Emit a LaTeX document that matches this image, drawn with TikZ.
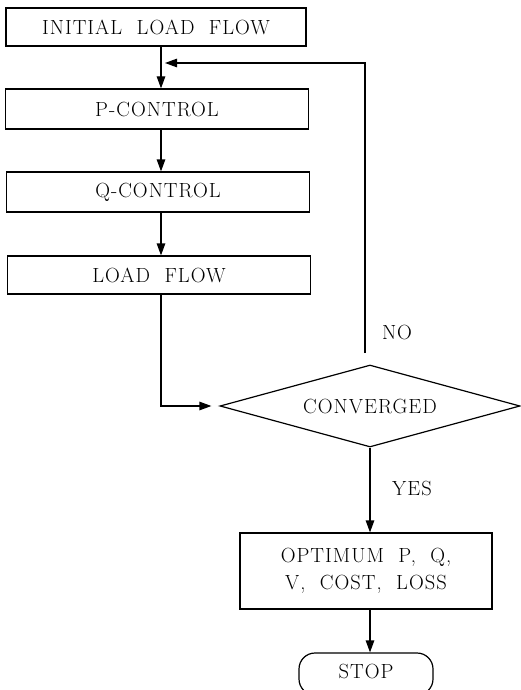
\documentclass[tikz,border=0pt]{standalone}
\usepackage{fontspec}
\setmainfont{Latin Modern Roman}[LetterSpace=5]
\usetikzlibrary{shapes.geometric,arrows.meta}
\begin{document}
\begin{tikzpicture}[x=1pt,y=-1pt,
  line width=1.2pt,
  txt/.style={font=\fontsize{20.5}{27}\selectfont},
  box/.style={draw,rectangle,inner sep=0pt,txt,align=center},
  dia/.style={draw,diamond,aspect=3.6,inner sep=0pt,minimum width=300pt,minimum height=82pt,txt},
  lbl/.style={txt,inner sep=0pt},
  arr/.style={-{Triangle[length=12pt,width=8.5pt]}}]
\useasboundingbox (0,0) rectangle (520,690);
\node[box,minimum width=300pt,minimum height=38pt] (init) at (156,27) {INITIAL\ \ LOAD\ \ FLOW};
\node[box,minimum width=303pt,minimum height=40pt] (pc) at (157,109) {P-CONTROL};
\node[box,minimum width=303pt,minimum height=40pt] (qc) at (158,192) {Q-CONTROL};
\node[box,minimum width=303pt,minimum height=38pt] (lf) at (159,275) {LOAD\ \ FLOW};
\node[dia] (conv) at (370,406) {CONVERGED};
\node[box,minimum width=252pt,minimum height=76pt] (opt) at (366,571) {OPTIMUM\ \ P,\ \ Q,\\V,\ \ COST,\ \ LOSS};
\node[draw,rounded corners=16pt,inner sep=0pt,minimum width=134pt,minimum height=42pt,txt] (stop) at (366,674) {\raisebox{6pt}{STOP}};
\node[lbl] (no) at (397,332) {NO};
\node[lbl] (yes) at (412,488) {YES};
\coordinate (fbs) at (365,353);
\coordinate (fbc) at (365,63);
\coordinate (fbe) at (161,63);
\coordinate (lfc) at (161,406);
\draw[arr] (init.south -| fbe) -- (pc.north -| fbe);
\draw[arr] (pc.south -| fbe) -- (qc.north -| fbe);
\draw[arr] (qc.south -| fbe) -- (lf.north -| fbe);
\draw[arr] (lf.south -| lfc) -- (lfc) -- ([xshift=-8pt]conv.west);
\draw[arr] (fbs) -- (fbc) -- ([xshift=4pt]fbe);
\draw[arr] (conv.south) -- (conv.south |- opt.north);
\draw[arr] (opt.south -| conv.south) -- (stop.north -| conv.south);
\end{tikzpicture}
\end{document}
